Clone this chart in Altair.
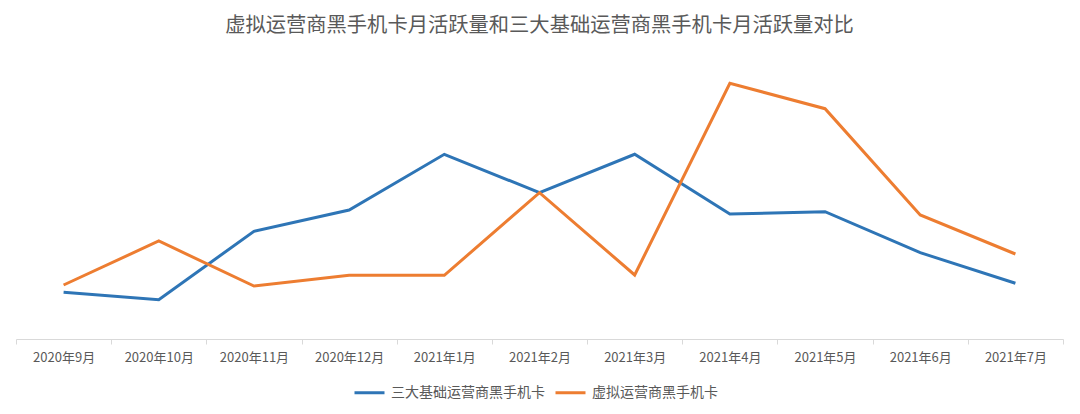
import altair as alt
import pandas as pd

months = ["2020年9月", "2020年10月", "2020年11月", "2020年12月", "2021年1月", "2021年2月",
          "2021年3月", "2021年4月", "2021年5月", "2021年6月", "2021年7月"]
series_names = ["三大基础运营商黑手机卡", "虚拟运营商黑手机卡"]
basic_values = [46.7, 39.3, 107.7, 129, 184.7, 146.3, 184.7, 125, 127.3, 86.3, 55.7]
virtual_values = [54, 98, 53, 63.7, 63.7, 146.3, 64, 255.7, 230.3, 124, 85]
colors = ["#2E75B6", "#ED7D31"]

rows = []
for m, v in zip(months, basic_values):
    rows.append({"month": m, "series": series_names[0], "value": v})
for m, v in zip(months, virtual_values):
    rows.append({"month": m, "series": series_names[1], "value": v})
df = pd.DataFrame(rows)

FONT = "Noto Sans CJK SC"
TXT = "#595959"

chart = alt.Chart(df).mark_line(strokeWidth=3).encode(
    x=alt.X("month:O", sort=months,
            scale=alt.Scale(type="band", paddingInner=0, paddingOuter=0),
            axis=alt.Axis(title=None, labelAngle=0, tickBand="extent",
                          domainColor="#d9d9d9", tickColor="#d9d9d9", tickSize=5,
                          domainWidth=1, tickWidth=1,
                          labelFont=FONT, labelFontSize=13, labelColor=TXT,
                          labelPadding=7)),
    y=alt.Y("value:Q", scale=alt.Scale(domain=[0, 279]), axis=None),
    color=alt.Color("series:N", sort=series_names,
                    scale=alt.Scale(domain=series_names, range=colors),
                    legend=alt.Legend(title=None, orient="none", direction="horizontal",
                                      legendX=337, legendY=316,
                                      symbolType="stroke", symbolSize=900,
                                      symbolStrokeWidth=3, labelFont=FONT,
                                      labelFontSize=14, labelColor=TXT,
                                      labelOffset=5, columnPadding=4, padding=0)),
).properties(
    width=1047, height=279,
    title=alt.TitleParams(text="虚拟运营商黑手机卡月活跃量和三大基础运营商黑手机卡月活跃量对比",
                          font=FONT, fontSize=20.3, fontWeight="normal", color=TXT,
                          anchor="middle", offset=24),
    autosize=alt.AutoSizeParams(type="none"),
    padding={"left": 8, "top": 52, "right": 8, "bottom": 66},
).configure_view(stroke=None)

chart.save("out.html", embed_options={"renderer": "svg", "actions": False})
